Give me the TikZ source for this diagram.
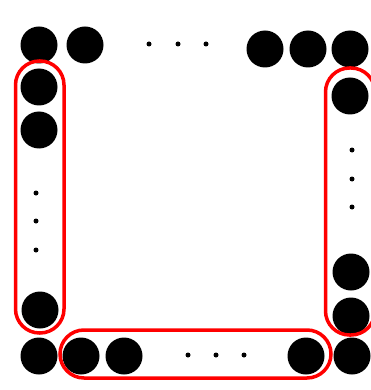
\documentclass[tikz,border=0pt]{standalone}
\usepackage{tikz}

\begin{document}
\begin{tikzpicture}[x=1pt, y=-1pt, ball/.style={circle, fill=black, minimum size=37pt, inner sep=0pt}, dot/.style={circle, fill=black, minimum size=5pt, inner sep=0pt}, grp/.style={draw=red, line width=3.5pt, rounded corners=24pt}]
	\useasboundingbox (0,0) rectangle (371,390);
	% top row
	\node[ball] (t1) at (39,45) {};
	\node[ball] (t2) at (85,45) {};
	\node[dot] (td1) at (149,44) {};
	\node[dot] (td2) at (178,44) {};
	\node[dot] (td3) at (206,44) {};
	\node[ball] (t3) at (265,49) {};
	\node[ball] (t4) at (308,49) {};
	\node[ball] (t5) at (350,49) {};
	% left column
	\node[ball] (l1) at (39,87) {};
	\node[ball] (l2) at (39,130) {};
	\node[dot] (ld1) at (36,193) {};
	\node[dot] (ld2) at (36,221) {};
	\node[dot] (ld3) at (36,250) {};
	\node[ball] (l3) at (40,310) {};
	% right column
	\node[ball] (r1) at (350,96) {};
	\node[dot] (rd1) at (352,150) {};
	\node[dot] (rd2) at (352,179) {};
	\node[dot] (rd3) at (352,207) {};
	\node[ball] (r2) at (351,272) {};
	\node[ball] (r3) at (351,316) {};
	% bottom row
	\node[ball] (b1) at (39,356) {};
	\node[ball] (b2) at (81,356) {};
	\node[ball] (b3) at (124,356) {};
	\node[dot] (bd1) at (188,355) {};
	\node[dot] (bd2) at (216,355) {};
	\node[dot] (bd3) at (244,355) {};
	\node[ball] (b4) at (306,356) {};
	\node[ball] (b5) at (352,356) {};
	% groups
	\draw[grp] (15.5,61) rectangle (64,333);
	\draw[grp] (60,330) rectangle (331,378);
	\draw[grp] (325.5,68) rectangle (375,335);
\end{tikzpicture}
\end{document}
